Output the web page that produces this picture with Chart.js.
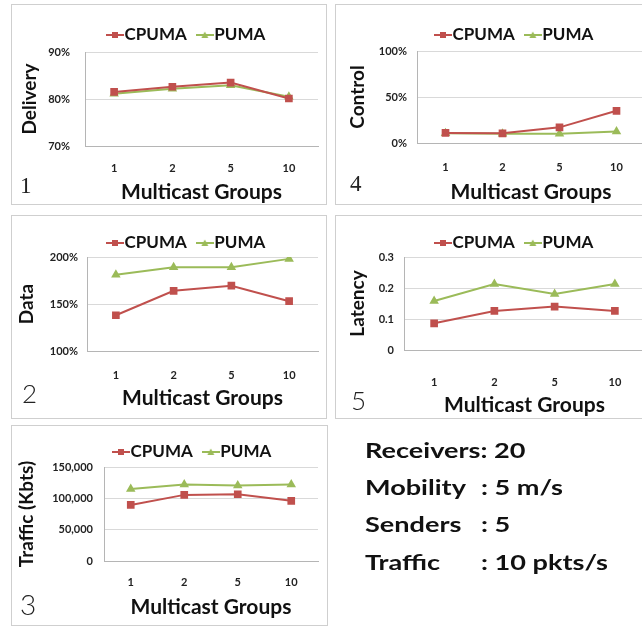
<!DOCTYPE html>
<html>
<head>
<meta charset="utf-8">
<script src="https://cdn.jsdelivr.net/npm/chart.js@4.4.0/dist/chart.umd.min.js"></script>
<style>
  html, body { margin: 0; padding: 0; background: #fff; overflow: hidden; width: 642px; height: 627px; }
  .panel { position: absolute; border: 1px solid #cfcfcf; box-sizing: border-box; }
  .panel canvas { position: absolute; left: 0; top: 0; }
  .num { position: absolute; line-height: 1; color: #222; }
  .serif { font-family: "Liberation Serif", "DejaVu Serif", serif; font-size: 23px; }
  .light { font-family: Lato, "Open Sans", sans-serif; font-weight: 300; font-size: 26px; }
  .info { position: absolute; font: bold 21px Lato, sans-serif; line-height: 1; color: #111; white-space: nowrap;
          transform: scaleX(1.29); transform-origin: 0 0; }
</style>
</head>
<body>
<div class="panel" style="left:11px; top:4px; width:316px; height:201px;"><canvas id="delivery" width="314" height="199"></canvas></div>
<div class="panel" style="left:335px; top:4px; width:322px; height:201px;"><canvas id="control" width="320" height="199"></canvas></div>
<div class="panel" style="left:11px; top:215px; width:316px; height:204px;"><canvas id="data" width="314" height="202"></canvas></div>
<div class="panel" style="left:335px; top:215px; width:322px; height:204px;"><canvas id="latency" width="320" height="202"></canvas></div>
<div class="panel" style="left:11px; top:425px; width:317px; height:201px;"><canvas id="traffic" width="315" height="199"></canvas></div>

<div class="num serif" style="left:20px; top:174px;">1</div>
<div class="num serif" style="left:350px; top:172px;">4</div>
<div class="num light" style="left:22px; top:380px;">2</div>
<div class="num light" style="left:351px; top:387px;">5</div>
<div class="num light" style="left:20px; top:590px; font-size:28px;">3</div>

<div class="info" style="left:365px; top:439px;">Receivers: 20</div>
<div class="info" style="left:365px; top:476px;">Mobility</div>
<div class="info" style="left:481px; top:476px;">: 5 m/s</div>
<div class="info" style="left:365px; top:513px;">Senders</div>
<div class="info" style="left:481px; top:513px;">: 5</div>
<div class="info" style="left:365px; top:551px;">Traffic</div>
<div class="info" style="left:481px; top:551px;">: 10 pkts/s</div>

<script>
// multicast group counts on the x axis
const groups = ['1', '2', '5', '10'];
const seriesNames = ['CPUMA', 'PUMA'];

// 1 - delivery ratio (%)
const deliveryCpuma = [81.5, 82.6, 83.5, 80.1];
const deliveryPuma = [81.1, 82.2, 82.9, 80.5];
const deliveryTicks = [70, 80, 90];

// 4 - control overhead (%)
const controlCpuma = [11, 10.5, 17, 35];
const controlPuma = [10.5, 10, 10, 12.5];
const controlTicks = [0, 50, 100];

// 2 - data overhead (%)
const dataCpuma = [138, 164, 169.5, 153];
const dataPuma = [181, 189, 189, 198];
const dataTicks = [100, 150, 200];

// 5 - latency (s)
const latencyCpuma = [0.086, 0.126, 0.140, 0.126];
const latencyPuma = [0.158, 0.213, 0.181, 0.213];
const latencyTicks = [0, 0.1, 0.2, 0.3];

// 3 - traffic (Kbts)
const trafficCpuma = [89500, 105500, 106500, 96000];
const trafficPuma = [115000, 122000, 120500, 122000];
const trafficTicks = [0, 50000, 100000, 150000];

const RED = '#c0504d';
const GREEN = '#9bbb59';
const FONT = 'Lato, "Open Sans", sans-serif';

function legendIcon(color, shape) {
    const c = document.createElement('canvas');
    c.width = 18;
    c.height = 10;
    const g = c.getContext('2d');
    g.strokeStyle = color;
    g.lineWidth = 2;
    g.beginPath();
    g.moveTo(0, 5);
    g.lineTo(18, 5);
    g.stroke();
    g.fillStyle = color;
    if (shape === 'rect') {
        g.fillRect(6, 2, 6, 6);
    } else {
        g.beginPath();
        g.moveTo(9, 1.5);
        g.lineTo(12.5, 8);
        g.lineTo(5.5, 8);
        g.closePath();
        g.fill();
    }
    return c;
}
const icons = [legendIcon(RED, 'rect'), legendIcon(GREEN, 'triangle')];

// put the legend where the original has it
const placeLegend = {
    id: 'placeLegend',
    afterLayout(chart, args, o) {
        const lg = chart.legend;
        const pad = lg.options.labels.padding;
        const fs = lg.options.labels.font.size;
        lg.left = o.x - pad;
        lg.right = lg.left + 400;
        lg.top = o.y - pad - fs / 2;
        lg.bottom = lg.top + 60;
    }
};

function makeChart(id, cfg) {
    const cv = document.getElementById(id);
    const W = cv.width, H = cv.height;
    return new Chart(cv, {
        type: 'line',
        data: {
            labels: groups,
            datasets: [{
                label: seriesNames[0],
                data: cfg.cpuma,
                borderColor: RED,
                backgroundColor: RED,
                pointStyle: 'rect',
                pointRadius: 4,
                borderWidth: 2
            }, {
                label: seriesNames[1],
                data: cfg.puma,
                borderColor: GREEN,
                backgroundColor: GREEN,
                pointStyle: 'triangle',
                pointRadius: 3.5,
                borderWidth: 2
            }]
        },
        options: {
            responsive: false,
            animation: false,
            layout: {padding: {top: cfg.top - 10, left: 0, right: W - cfg.right, bottom: 0}},
            plugins: {
                legend: {
                    align: 'start',
                    maxHeight: 10,
                    labels: {
                        font: {family: FONT, size: 17, weight: 'bold'},
                        color: '#111',
                        usePointStyle: true,
                        pointStyleWidth: 2,
                        padding: 17,
                        generateLabels: chart => Chart.defaults.plugins.legend.labels.generateLabels(chart)
                            .map((it, i) => Object.assign(it, {pointStyle: icons[i]}))
                    }
                },
                tooltip: {enabled: false},
                placeLegend: {x: cfg.legendX, y: cfg.legendY}
            },
            scales: {
                x: {
                    offset: true,
                    grid: {display: false, drawTicks: false, offset: true},
                    border: {color: '#b5b5b5'},
                    ticks: {
                        font: {family: FONT, size: 11, weight: 'bold', lineHeight: 1},
                        color: '#222',
                        padding: cfg.xTickY - cfg.bottom - 5.5,
                        maxRotation: 0
                    },
                    title: {
                        display: true,
                        text: 'Multicast Groups',
                        font: {family: FONT, size: 21, weight: 'bold', lineHeight: 1},
                        color: '#111',
                        padding: {top: 0, bottom: H - cfg.xTitleY - 10.5}
                    },
                    afterFit: s => { s.height = H - cfg.bottom; }
                },
                y: {
                    min: cfg.ticks[0],
                    max: cfg.ticks[cfg.ticks.length - 1],
                    afterBuildTicks: s => { s.ticks = cfg.ticks.map(v => ({value: v})); },
                    grid: {color: '#d9d9d9', drawTicks: false},
                    border: {color: '#b5b5b5'},
                    ticks: {
                        font: {family: FONT, size: 11, weight: 'bold', lineHeight: 1},
                        color: '#222',
                        padding: cfg.yTickGap,
                        callback: cfg.fmt
                    },
                    title: {
                        display: true,
                        text: cfg.yTitle,
                        font: {family: FONT, size: 19, weight: 'bold', lineHeight: 1},
                        color: '#111',
                        padding: {top: cfg.yTitleX - 9.5, bottom: 0}
                    },
                    afterFit: s => { s.width = cfg.left; }
                }
            }
        },
        plugins: [placeLegend]
    });
}

const pct = v => v + '%';

makeChart('delivery', {
    cpuma: deliveryCpuma, puma: deliveryPuma, ticks: deliveryTicks, fmt: pct, yTitle: 'Delivery',
    left: 73, top: 47, bottom: 141, right: 306,
    legendX: 102, legendY: 30, yTitleX: 18, yTickGap: 15, xTickY: 163, xTitleY: 187
});
makeChart('control', {
    cpuma: controlCpuma, puma: controlPuma, ticks: controlTicks, fmt: pct, yTitle: 'Control',
    left: 81, top: 46, bottom: 138, right: 309,
    legendX: 106, legendY: 30, yTitleX: 22, yTickGap: 10, xTickY: 162, xTitleY: 187
});
makeChart('data', {
    cpuma: dataCpuma, puma: dataPuma, ticks: dataTicks, fmt: pct, yTitle: 'Data',
    left: 75, top: 41, bottom: 135, right: 306,
    legendX: 102, legendY: 27, yTitleX: 15, yTickGap: 9, xTickY: 159, xTitleY: 182
});
makeChart('latency', {
    cpuma: latencyCpuma, puma: latencyPuma, ticks: latencyTicks, fmt: v => String(+v.toFixed(1)), yTitle: 'Latency',
    left: 68, top: 41, bottom: 134, right: 309,
    legendX: 106, legendY: 27, yTitleX: 22, yTickGap: 10, xTickY: 166, xTitleY: 189
});
makeChart('traffic', {
    cpuma: trafficCpuma, puma: trafficPuma, ticks: trafficTicks, fmt: v => v.toLocaleString('en-US'), yTitle: 'Traffic (Kbts)',
    left: 92, top: 41, bottom: 135, right: 306,
    legendX: 108, legendY: 26, yTitleX: 15, yTickGap: 11, xTickY: 156, xTitleY: 181
});
</script>
</body>
</html>
